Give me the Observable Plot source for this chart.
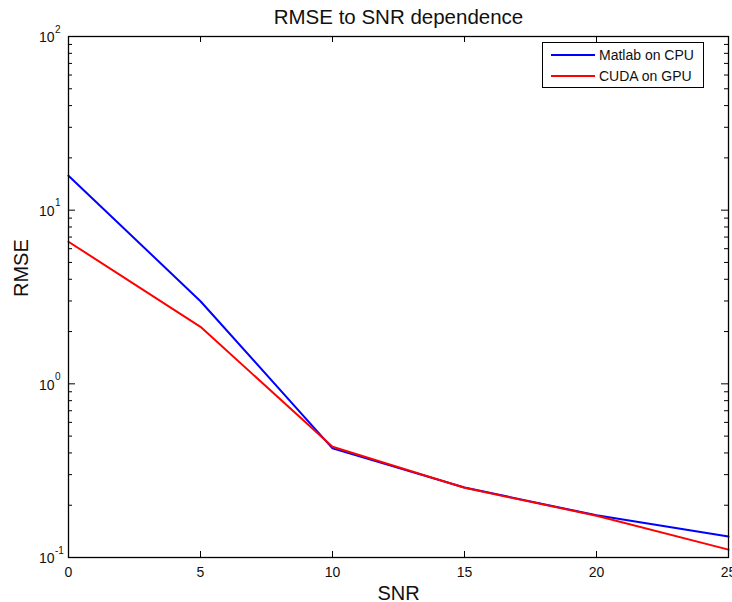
<!DOCTYPE html>
<html>
<head>
<meta charset="utf-8">
<script src="https://cdn.jsdelivr.net/npm/d3@7"></script>
<script src="https://cdn.jsdelivr.net/npm/@observablehq/plot@0.6"></script>
<style>
  html, body { margin: 0; padding: 0; background: #fff; }
  #wrap { position: relative; width: 732px; height: 602px; overflow: hidden; font-family: "Liberation Sans", Arial, Helvetica, sans-serif; }
  #legend { position: absolute; left: 542px; top: 42px; width: 162px; height: 46px; box-sizing: border-box; border: 1px solid #000; background: #fff; }
  .row { position: absolute; left: 0; height: 20px; display: flex; align-items: center; font-size: 14px; color: #111; }
  .sw { width: 44px; height: 2px; margin-left: 8px; margin-right: 4px; }
</style>
</head>
<body>
<div id="wrap"></div>
<script>
// ---- data ----
const snr = [0, 5, 10, 15, 20, 25];
const matlabCPU = [15.8, 2.99, 0.425, 0.253, 0.175, 0.132];
const cudaGPU = [6.58, 2.13, 0.434, 0.252, 0.174, 0.111];
const seriesNames = ["Matlab on CPU", "CUDA on GPU"];
const seriesColors = ["#0000ff", "#ff0000"];
const xTicks = [0, 5, 10, 15, 20, 25];
const yMajor = [0.1, 1, 10, 100];
const yMinor = [];
for (const d of [0.1, 1, 10]) for (let m = 2; m <= 9; m++) yMinor.push(+(d * m).toPrecision(3));

const rows = [];
snr.forEach((x, i) => rows.push({x, y: matlabCPU[i], s: seriesNames[0]}));
snr.forEach((x, i) => rows.push({x, y: cudaGPU[i], s: seriesNames[1]}));

const W = 732, H = 602, mt = 36, mb = 45, ml = 68, mr = 4;
const ph = H - mt - mb, pw = W - ml - mr;
const font = "Liberation Sans, Arial, Helvetica, sans-serif";

const chart = Plot.plot({
  width: W, height: H,
  marginTop: mt, marginBottom: mb, marginLeft: ml, marginRight: mr,
  style: {fontFamily: font, background: "#fff", color: "#000", overflow: "visible"},
  x: {domain: [0, 25], axis: null},
  y: {type: "log", domain: [0.1, 100], axis: null},
  color: {domain: seriesNames, range: seriesColors},
  marks: [
    // ticks inside
    Plot.tickX(xTicks, {x: d => d, insetTop: ph - 6, stroke: "#000", strokeWidth: 1}),
    Plot.tickX(xTicks, {x: d => d, insetBottom: ph - 6, stroke: "#000", strokeWidth: 1}),
    Plot.tickY(yMajor, {y: d => d, insetRight: pw - 7, stroke: "#000", strokeWidth: 1}),
    Plot.tickY(yMajor, {y: d => d, insetLeft: pw - 7, stroke: "#000", strokeWidth: 1}),
    Plot.tickY(yMinor, {y: d => d, insetRight: pw - 4, stroke: "#000", strokeWidth: 1}),
    Plot.tickY(yMinor, {y: d => d, insetLeft: pw - 4, stroke: "#000", strokeWidth: 1}),
    // lines
    Plot.line(rows, {x: "x", y: "y", z: "s", stroke: "s", strokeWidth: 2}),
    Plot.frame({stroke: "#000", strokeWidth: 1.3}),
    // x tick labels
    Plot.text(xTicks, {x: d => d, frameAnchor: "bottom", text: d => String(d), dy: 19, lineAnchor: "bottom", fontSize: 14, fill: "#111"}),
    // y tick labels: "10" + superscript exponent
    Plot.text(yMajor, {y: d => d, frameAnchor: "left", text: () => "10", textAnchor: "end", dx: -14, dy: 1.5, lineAnchor: "middle", fontSize: 14, fill: "#111"}),
    Plot.text(yMajor, {y: d => d, frameAnchor: "left", text: d => String(Math.round(Math.log10(d))), textAnchor: "start", dx: -13.5, dy: -7, lineAnchor: "middle", fontSize: 10, fill: "#111"}),
    // title & axis labels
    Plot.text(["RMSE to SNR dependence"], {frameAnchor: "top", dy: -13, lineAnchor: "bottom", fontSize: 20.5, fill: "#111"}),
    Plot.text(["SNR"], {frameAnchor: "bottom", dy: 42, lineAnchor: "bottom", fontSize: 20, fill: "#111"}),
    Plot.text(["RMSE"], {frameAnchor: "left", dx: -41, rotate: -90, lineAnchor: "bottom", fontSize: 20, fill: "#111"})
  ]
});

const wrap = document.getElementById("wrap");
wrap.appendChild(chart);

// legend
const leg = document.createElement("div");
leg.id = "legend";
seriesNames.forEach((name, i) => {
  const r = document.createElement("div");
  r.className = "row";
  r.style.top = (i === 0 ? 2 : 23) + "px";
  const sw = document.createElement("div");
  sw.className = "sw";
  sw.style.background = seriesColors[i];
  const t = document.createElement("span");
  t.textContent = name;
  r.appendChild(sw); r.appendChild(t);
  leg.appendChild(r);
});
wrap.appendChild(leg);
</script>
</body>
</html>
